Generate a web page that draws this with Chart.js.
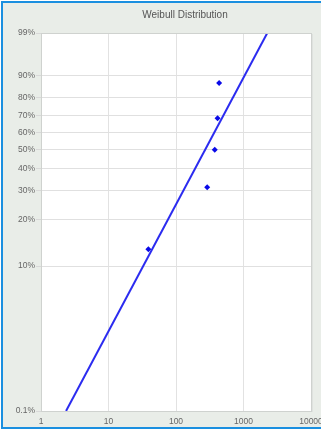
<!DOCTYPE html>
<html>
<head>
<meta charset="utf-8">
<script src="https://cdn.jsdelivr.net/npm/chart.js@4"></script>
<style>
    html, body { margin: 0; padding: 0; background: #ffffff; overflow: hidden; width: 321px; height: 429px; }
    #frame {
        position: absolute; left: 1px; top: 1px; width: 360px; height: 424px;
        background: #e9ede8; border: 2px solid #1a8fe0; border-right: none;
    }
    #wrap { position: absolute; left: 0; top: 0; width: 370px; height: 429px; }
</style>
</head>
<body>
<div id="frame"></div>
<div id="wrap"><canvas id="weibullChart" width="370" height="429"></canvas></div>
<script>
// --- Data ---
const probTicks = [1, 10, 20, 30, 40, 50, 60, 70, 80, 90, 99];
const probLabels = ["0.1%", "10%", "20%", "30%", "40%", "50%", "60%", "70%", "80%", "90%", "99%"];
const timeTicks = [1, 10, 100, 1000, 10000];
const timeLabels = ["1", "10", "100", "1000", "10000"];

const failTimes = [39, 290, 375, 413, 435];
const rankPct = [12.94, 31.47, 50, 68.53, 87.06];

const fitTimes = [2.35, 2250];
const fitPct = [1, 99];

// Weibull probability paper: y = ln(-ln(1 - F))
function weib(pct) {
    return Math.log(-Math.log(1 - pct / 100));
}

const font = { family: "'Liberation Sans', Arial, sans-serif", size: 8.5 };

// plot background + frame, and the title
const paperPlugin = {
    id: "paper",
    beforeDraw(chart) {
        const a = chart.chartArea;
        const ctx = chart.ctx;
        ctx.save();
        ctx.fillStyle = "#ffffff";
        ctx.fillRect(a.left, a.top, a.right - a.left, a.bottom - a.top);
        ctx.restore();
    },
    afterDraw(chart) {
        const a = chart.chartArea;
        const ctx = chart.ctx;
        ctx.save();
        ctx.strokeStyle = "#cfd2cf";
        ctx.lineWidth = 1;
        ctx.strokeRect(a.left + 0.5, a.top + 0.5, a.right - a.left, a.bottom - a.top);
        ctx.strokeStyle = "#dfe2df";
        ctx.beginPath();
        ctx.moveTo(a.right + 1.5, a.top + 1);
        ctx.lineTo(a.right + 1.5, a.bottom + 1);
        ctx.stroke();
        ctx.fillStyle = "#555555";
        ctx.font = "10px 'Liberation Sans', Arial, sans-serif";
        ctx.textAlign = "center";
        ctx.textBaseline = "middle";
        ctx.fillText("Weibull Distribution", 185, 15);
        ctx.restore();
    }
};

const ctx = document.getElementById("weibullChart").getContext("2d");
new Chart(ctx, {
    type: "scatter",
    data: {
        datasets: [
            {
                type: "line",
                data: fitTimes.map((t, i) => ({ x: t, y: weib(fitPct[i]) })),
                borderColor: "#2b2bf0",
                borderWidth: 2,
                pointRadius: 0,
                fill: false
            },
            {
                data: failTimes.map((t, i) => ({ x: t, y: weib(rankPct[i]) })),
                backgroundColor: "#0a0ae8",
                borderColor: "#0a0ae8",
                pointStyle: "rectRot",
                pointRadius: 3,
                borderWidth: 0
            }
        ]
    },
    options: {
        responsive: false,
        animation: false,
        layout: { padding: { left: 4, right: 59, top: 33, bottom: 0 } },
        plugins: {
            legend: { display: false },
            title: { display: false },
            tooltip: { enabled: false }
        },
        scales: {
            x: {
                type: "logarithmic",
                min: 1,
                max: 10000,
                afterBuildTicks: (scale) => { scale.ticks = timeTicks.map(v => ({ value: v })); },
                afterFit: (scale) => { scale.height = 18; },
                ticks: {
                    color: "#666666",
                    font: font,
                    padding: 6,
                    maxRotation: 0,
                    autoSkip: false,
                    callback: (v) => timeLabels[timeTicks.indexOf(v)]
                },
                grid: { color: "#e2e2e2", drawTicks: false },
                border: { display: false }
            },
            y: {
                type: "linear",
                min: weib(1),
                max: weib(99),
                afterBuildTicks: (scale) => { scale.ticks = probTicks.map(p => ({ value: weib(p) })); },
                afterFit: (scale) => { scale.width = 37; },
                ticks: {
                    color: "#666666",
                    font: font,
                    padding: 1,
                    autoSkip: false,
                    callback: (v, i) => probLabels[i]
                },
                grid: { color: "#e0e0e0", tickLength: 5, tickColor: "#d8d8d8" },
                border: { display: false }
            }
        }
    },
    plugins: [paperPlugin]
});
</script>
</body>
</html>
